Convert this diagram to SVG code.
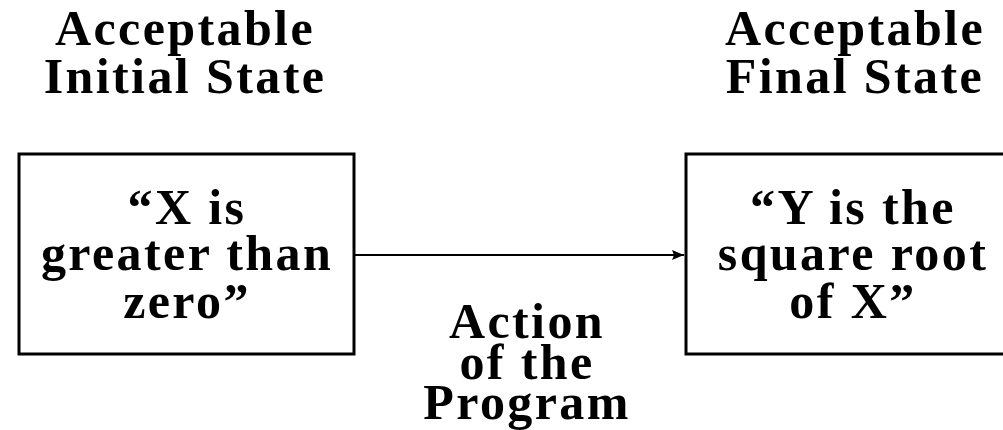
<svg xmlns="http://www.w3.org/2000/svg" width="1003" height="430" viewBox="0 0 1003 430">
<style>
  text { font-family: "Liberation Serif", "Times New Roman", serif; font-weight: bold; font-size: 50px; letter-spacing: 2.4px; fill: #000; text-anchor: middle; }
  .box { fill: #fff; stroke: #000; stroke-width: 3; }
  .conn { stroke: #000; stroke-width: 2; fill: none; }
</style>
<defs>
  <marker id="arrow" viewBox="0 0 12 10" refX="12" refY="5" markerWidth="12" markerHeight="10" markerUnits="userSpaceOnUse" orient="auto">
    <path d="M0,0 L12,5 L0,10 L2,5 Z" fill="#000"/>
  </marker>
</defs>
<rect width="1003" height="430" fill="#fff"/>
<g id="header-initial">
  <text x="185" y="45">Acceptable</text>
  <text x="185" y="93">Initial State</text>
</g>
<g id="header-final">
  <text x="855" y="45">Acceptable</text>
  <text x="855" y="93">Final State</text>
</g>
<g id="node-initial">
  <rect class="box" x="19" y="154" width="335" height="200"/>
  <text x="187" y="224">“X is</text>
  <text x="187" y="270">greater than</text>
  <text x="187" y="318">zero”</text>
</g>
<g id="node-final">
  <rect class="box" x="686" y="154" width="340" height="200"/>
  <text x="853" y="224">“Y is the</text>
  <text x="853" y="270">square root</text>
  <text x="853" y="318">of X”</text>
</g>
<g id="connectors">
  <line class="conn" x1="355" y1="255" x2="684" y2="255" marker-end="url(#arrow)"/>
</g>
<g id="label-action">
  <text x="527" y="338">Action</text>
  <text x="527" y="379">of the</text>
  <text x="527" y="419">Program</text>
</g>
</svg>
